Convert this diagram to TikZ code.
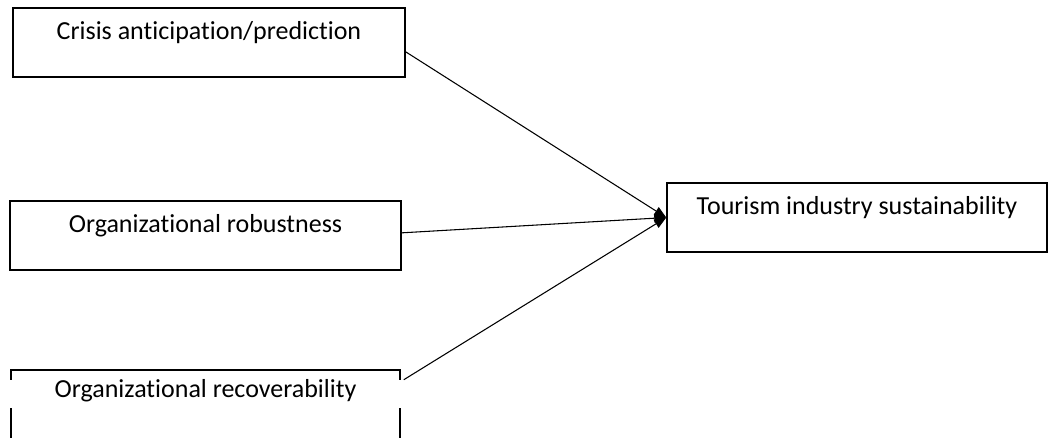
\documentclass[tikz,border=0pt]{standalone}
\usepackage{fontspec}
\setmainfont[Ligatures=NoCommon]{Carlito}
\usetikzlibrary{positioning, arrows.meta}

\begin{document}
\begin{tikzpicture}[
            x=0.75pt, y=-0.75pt,
            factor/.style={draw=black, line width=1.1pt, fill=white, inner sep=0pt, minimum height=51.75pt, text height=23.25pt, text depth=28.5pt, font=\fontsize{19.5}{23}\selectfont},
            blank/.style={draw=black, line width=1.1pt, inner sep=0pt, minimum height=51.75pt},
            cover/.style={fill=white, inner sep=0pt, text height=12.75pt, text depth=8.25pt, font=\fontsize{19.5}{23}\selectfont},
            arrow/.style={-{Triangle[length=9pt, width=7pt]}, line width=0.8pt, black}
        ]
            \useasboundingbox (0,0) rectangle (1049,437);

            % predictors on the left
            \node[factor, minimum width=294pt] (crisis) at (209,42.5) {Crisis anticipation/prediction};
            \node[factor, minimum width=293.25pt] (robust) at (205.5,235.5) {Organizational robustness};
            \node[blank, minimum width=291.75pt] (recbox) at (205.5,404.5) {};
            \node[cover, minimum width=297pt, anchor=base] (recover) at (205.5,397) {Organizational recoverability};

            % outcome
            \node[factor, minimum width=285pt] (tourism) at (857,217.5) {Tourism industry sustainability};

            \draw[arrow] ([yshift=-7pt]crisis.east) -- (tourism.west);
            \draw[arrow] ([yshift=2pt]robust.east) -- (tourism.west);
            \draw[arrow] (recover.north east) -- (tourism.west);

        \end{tikzpicture}
\end{document}
